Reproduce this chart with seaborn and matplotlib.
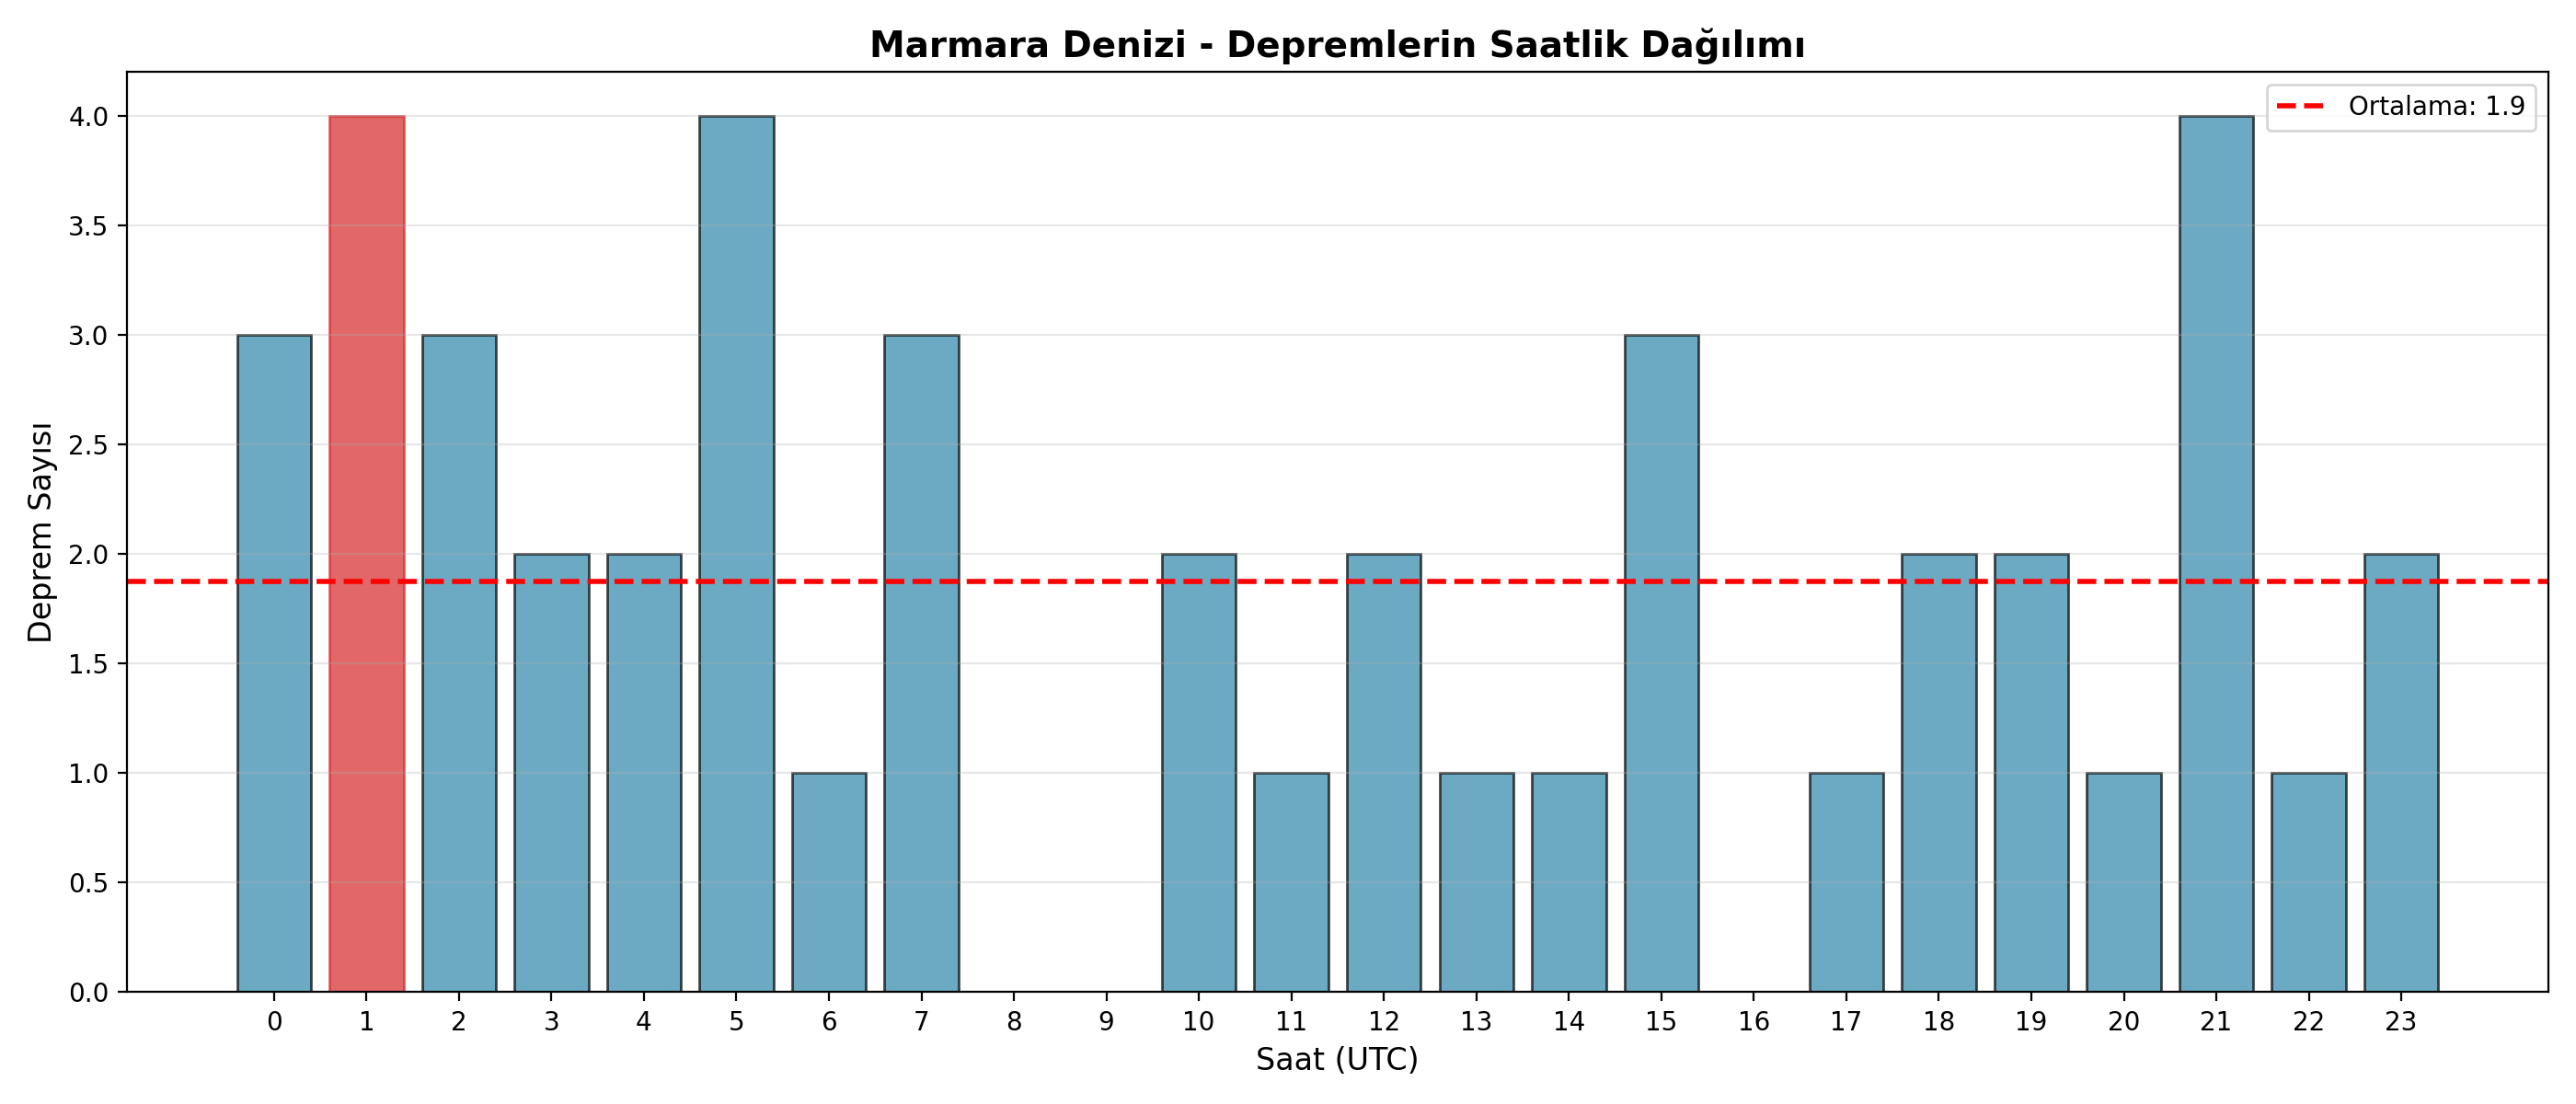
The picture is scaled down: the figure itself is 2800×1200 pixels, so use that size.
import numpy as np
import pandas as pd
import matplotlib
matplotlib.use('Agg')
import matplotlib.pyplot as plt
import seaborn as sns

# Hourly earthquake counts (UTC)
hours = list(range(24))
counts = [3, 4, 3, 2, 2, 4, 1, 3, 0, 0, 2, 1, 2, 1, 1, 3, 0, 1, 2, 2, 1, 4, 1, 2]

df = pd.DataFrame({'Saat': hours, 'Sayi': counts})
peak_hour = int(np.argmax(counts))
df['vurgu'] = np.where(df['Saat'] == peak_hour, 'peak', 'normal')
mean_val = np.mean(counts)

palette = {'normal': '#2E86AB', 'peak': '#d62728'}

fig, ax = plt.subplots(figsize=(14, 6), dpi=200)
sns.barplot(data=df, x='Saat', y='Sayi', hue='vurgu', palette=palette,
            dodge=False, legend=False, alpha=0.7, edgecolor='black',
            linewidth=1, width=0.8, saturation=1, ax=ax)

# peak bar gets its own edge colour
for p in ax.patches:
    fc = p.get_facecolor()
    if fc[0] > 0.6:
        p.set_edgecolor(fc)

ax.axhline(mean_val, color='red', linestyle='--', linewidth=2,
           label=f'Ortalama: {mean_val:.1f}')

# restore matplotlib default margins on x
ax.set_autoscalex_on(True)
ax.margins(x=0.05)
ax.autoscale_view()

ax.set_title('Marmara Denizi - Depremlerin Saatlik Dağılımı', fontsize=14, fontweight='bold')
ax.set_xlabel('Saat (UTC)', fontsize=12)
ax.set_ylabel('Deprem Sayısı', fontsize=12)
ax.set_xticks(hours)
ax.set_xticklabels([str(h) for h in hours])
ax.yaxis.set_major_formatter(matplotlib.ticker.FormatStrFormatter('%.1f'))
ax.grid(axis='y', alpha=0.3)
ax.legend(loc='upper right')

plt.tight_layout()
plt.savefig('out.png', dpi=200)
plt.close()
